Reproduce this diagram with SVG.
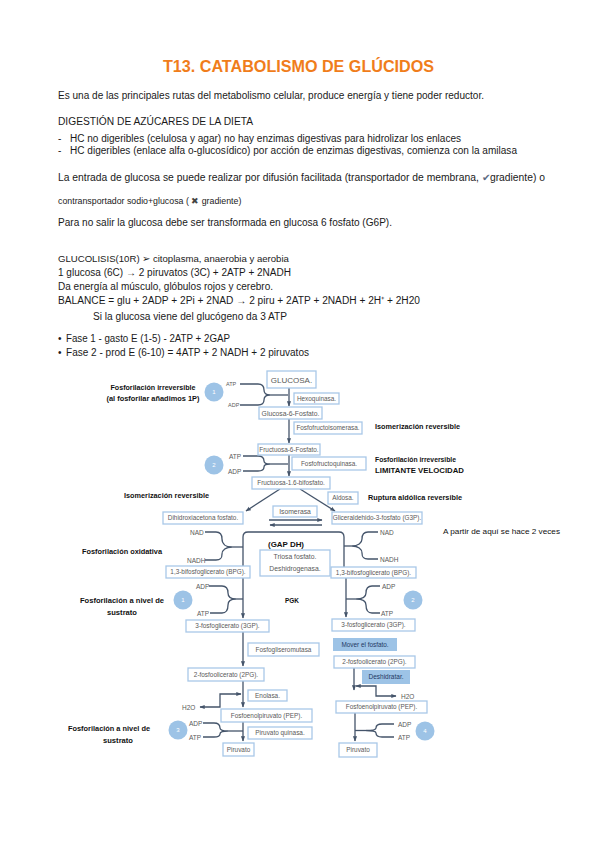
<svg xmlns="http://www.w3.org/2000/svg" width="599" height="848" viewBox="0 0 599 848">
<defs>
<marker id="ah" viewBox="0 0 10 10" refX="9" refY="5" markerWidth="4" markerHeight="4" orient="auto-start-reverse" markerUnits="strokeWidth">
<path d="M0 1 L10 5 L0 9 Z" fill="#44546A"/>
</marker>
<style>
.t{font-family:"Liberation Sans",Arial,sans-serif;font-size:10px;fill:#1a1a1a}
.title{font-family:"Liberation Sans",Arial,sans-serif;font-size:16px;font-weight:bold;fill:#F07D1B}
.bx{fill:#fff;stroke:#A9C8E8;stroke-width:1.3}
.fb{fill:#9DC3E6;stroke:none}
.bt{font-family:"Liberation Sans",Arial,sans-serif;font-size:6.4px;fill:#595959;text-anchor:middle}
.ft{font-family:"Liberation Sans",Arial,sans-serif;font-size:6.5px;fill:#1F3864;text-anchor:middle}
.lb{font-family:"Liberation Sans",Arial,sans-serif;font-size:7.5px;font-weight:bold;fill:#111}
.lbc{font-family:"Liberation Sans",Arial,sans-serif;font-size:7.5px;font-weight:bold;fill:#111;text-anchor:middle}
.sm{font-family:"Liberation Sans",Arial,sans-serif;font-size:6.5px;fill:#595959}
.ln{stroke:#44546A;stroke-width:1.3;fill:none}
.ar{stroke:#44546A;stroke-width:1.3;fill:none;marker-end:url(#ah)}
.ar2{stroke:#44546A;stroke-width:1.3;fill:none;marker-start:url(#ah);marker-end:url(#ah)}
.cc{fill:#9DC3E6}
.cn{font-family:"Liberation Sans",Arial,sans-serif;font-size:6px;fill:#fff;text-anchor:middle}
</style>
</defs>
<rect width="599" height="848" fill="#fff"/>

<g id="text-top">
<text class="title" x="163" y="72" textLength="271" lengthAdjust="spacingAndGlyphs">T13. CATABOLISMO DE GLÚCIDOS</text>
<text class="t" x="58" y="99" textLength="426" lengthAdjust="spacingAndGlyphs">Es una de las principales rutas del metabolismo celular, produce energía y tiene poder reductor.</text>
<text class="t" x="58" y="125" textLength="195" lengthAdjust="spacingAndGlyphs">DIGESTIÓN DE AZÚCARES DE LA DIETA</text>
<text class="t" x="58" y="141.5">-</text>
<text class="t" x="70" y="141.5" textLength="391" lengthAdjust="spacingAndGlyphs">HC no digeribles (celulosa y agar) no hay enzimas digestivas para hidrolizar los enlaces</text>
<text class="t" x="58" y="154">-</text>
<text class="t" x="70" y="154" textLength="447" lengthAdjust="spacingAndGlyphs">HC digeribles (enlace alfa o-glucosídico) por acción de enzimas digestivas, comienza con la amilasa</text>
<text class="t" x="58" y="180.5" textLength="487" lengthAdjust="spacingAndGlyphs">La entrada de glucosa se puede realizar por difusión facilitada (transportador de membrana, <tspan fill="#5B6B82">✔</tspan>gradiente) o</text>
<text class="t" x="58" y="203.5" style="font-size:8.8px">contransportador sodio+glucosa ( <tspan fill="#444">✖</tspan> gradiente)</text>
<text class="t" x="58" y="226" textLength="334" lengthAdjust="spacingAndGlyphs">Para no salir la glucosa debe ser transformada en glucosa 6 fosfato (G6P).</text>
<text class="t" x="58" y="261.5" style="font-size:9.6px">GLUCOLISIS(10R) ➢ citoplasma, anaerobia y aerobia</text>
<text class="t" x="58" y="275.5" textLength="233" lengthAdjust="spacingAndGlyphs">1 glucosa (6C) → 2 piruvatos (3C) + 2ATP + 2NADH</text>
<text class="t" x="58" y="289.5" textLength="215" lengthAdjust="spacingAndGlyphs">Da energía al músculo, glóbulos rojos y cerebro.</text>
<text class="t" x="58" y="304" textLength="362" lengthAdjust="spacingAndGlyphs">BALANCE = glu + 2ADP + 2Pi + 2NAD →  2 piru + 2ATP + 2NADH + 2H⁺ + 2H20</text>
<text class="t" x="93" y="319.5" textLength="194" lengthAdjust="spacingAndGlyphs">Si la glucosa viene del glucógeno da 3 ATP</text>
<text class="t" x="58" y="342">•</text>
<text class="t" x="66" y="342" textLength="164" lengthAdjust="spacingAndGlyphs">Fase 1 - gasto E (1-5) - 2ATP + 2GAP</text>
<text class="t" x="58" y="356">•</text>
<text class="t" x="66" y="356" textLength="243" lengthAdjust="spacingAndGlyphs">Fase 2 - prod E (6-10) = 4ATP + 2 NADH + 2 piruvatos</text>
</g>

<g id="connectors">
<path class="ar" d="M289 388 V406"/>
<path class="ar" d="M289 419 V443"/>
<path class="ar" d="M289 455 V476"/>
<path class="ln" d="M240 384 H258 C263 384 264 387 264 390 C264 393 266 395 270 395 C266 395 264 397 264 400 C264 403 263 405 258 405 H240"/>
<path class="ln" d="M270 395 H288"/>
<path class="ln" d="M243 456 H258 C263 456 264 459 264 461 C264 463 266 464 270 464 C266 464 264 465 264 467 C264 469 263 471 258 471 H243"/>
<path class="ln" d="M270 464 H288"/>
<path class="ar" d="M280 489 L246 511"/>
<path class="ar" d="M300 489 L335 511"/>
<path class="ar" d="M269 520 H322"/>
<path class="ar" d="M322 525 H270"/>
<path class="ln" d="M243 566 V537 Q243 532 248 532 H339 Q344 532 344 537 V567"/>
<path class="ln" d="M205 532 H216 C221 532 222 535 222 539 C222 544 226 547 232 547 C226 547 222 550 222 554 C222 558 221 560 216 560 H205"/>
<path class="ln" d="M232 547 H243"/>
<path class="ln" d="M378 532 H368 C363 532 362 535 362 539 C362 543 358 546 352 546 C358 546 362 549 362 553 C362 557 363 559 368 559 H378"/>
<path class="ln" d="M352 546 H344"/>
<path class="ar" d="M243 578 V618"/>
<path class="ln" d="M209 586 H222 C227 586 228 589 228 593 C228 597 231 599 236 599 C231 599 228 601 228 605 C228 609 227 613 222 613 H210"/>
<path class="ln" d="M236 599 H243"/>
<path class="ar" d="M346 578 V617"/>
<path class="ln" d="M380 586 H372 C367 586 366 589 366 593 C366 597 362 599 356 599 C362 599 366 601 366 605 C366 609 367 613 372 613 H380"/>
<path class="ln" d="M356 599 H346"/>
<path class="ar" d="M243 632 V666"/>
<path class="ar" d="M243 681 V707"/>
<path class="ar2" d="M241 694 H220 V707 H200"/>
<path class="ar" d="M243 722 V741"/>
<path class="ln" d="M203 723 H214 C219 723 220 726 220 728 C220 730 223 731 228 731 C223 731 220 732 220 734 C220 736 219 737 214 737 H203"/>
<path class="ln" d="M228 731 H243"/>
<path class="ar" d="M354 668 V690"/>
<path class="ar2" d="M356 686 H376 V696 H396"/>
<path class="ar" d="M355 713 V741"/>
<path class="ln" d="M394 724 H382 C377 724 376 726 376 728 C376 730 372 730.5 366 730.5 C372 730.5 376 731 376 733 C376 735 377 737 382 737 H394"/>
<path class="ln" d="M366 730.5 H355"/>
</g>

<g id="n-glucosa"><rect class="bx" x="267" y="371" width="49" height="17"/><text class="bt" x="291.5" y="382.5" style="font-size:8px">GLUCOSA.</text></g>
<g id="n-hexoquinasa"><rect class="bx" x="294" y="393" width="45" height="11"/><text class="bt" x="316.5" y="400.5">Hexoquinasa.</text></g>
<g id="n-g6p"><rect class="bx" x="259" y="407" width="63" height="12"/><text class="bt" x="290.5" y="415.5" style="font-size:6.8px">Glucosa-6-Fosfato.</text></g>
<g id="n-fosfofructoisomerasa"><rect class="bx" x="294" y="422" width="68" height="12"/><text class="bt" x="328" y="430">Fosfofructoisomerasa.</text></g>
<g id="n-f6p"><rect class="bx" x="258" y="444" width="62" height="11"/><text class="bt" x="289" y="451.5">Fructuosa-6-Fosfato.</text></g>
<g id="n-fosfofructoquinasa"><rect class="bx" x="292" y="457" width="74" height="13"/><text class="bt" x="329" y="465.5">Fosfofructoquinasa.</text></g>
<g id="n-f16bp"><rect class="bx" x="252" y="477" width="78" height="12"/><text class="bt" x="291" y="485">Fructuosa-1.6-bifosfato.</text></g>
<g id="n-aldosa"><rect class="bx" x="328" y="492" width="30" height="12"/><text class="bt" x="343" y="500">Aldosa.</text></g>
<g id="n-isomerasa"><rect class="bx" x="273" y="506" width="44" height="11"/><text class="bt" x="295" y="513.5" style="font-size:6.8px">Isomerasa</text></g>
<g id="n-dhap"><rect class="bx" x="163" y="512" width="80" height="12"/><text class="bt" x="203" y="520">Dihidroxiacetona fosfato.</text></g>
<g id="n-g3p"><rect class="bx" x="332" y="512" width="90" height="12"/><text class="bt" x="377" y="520">Gliceraldehido-3-fosfato (G3P).</text></g>
<g id="n-gapdh"><rect class="bx" x="260" y="550" width="70" height="26"/><text class="bt" x="295" y="559" style="font-size:6.8px">Triosa fosfato.</text><text class="bt" x="295" y="571" style="font-size:6.8px">Deshidrogenasa.</text></g>
<g id="n-bpg-l"><rect class="bx" x="166" y="566" width="84" height="12"/><text class="bt" x="208" y="574">1,3-bifosfoglicerato (BPG).</text></g>
<g id="n-bpg-r"><rect class="bx" x="331" y="567" width="85" height="11"/><text class="bt" x="373.5" y="574.5">1,3-bifosfoglicerato (BPG).</text></g>
<g id="n-3gp-l"><rect class="bx" x="186" y="620" width="83" height="12"/><text class="bt" x="227.5" y="628">3-fosfoglicerato (3GP).</text></g>
<g id="n-3gp-r"><rect class="bx" x="332" y="619" width="83" height="12"/><text class="bt" x="373.5" y="627">3-fosfoglicerato (3GP).</text></g>
<g id="n-fosfogliseromutasa"><rect class="bx" x="248" y="643" width="71" height="13"/><text class="bt" x="283.5" y="651.5">Fosfogliseromutasa</text></g>
<g id="n-mover"><rect class="fb" x="333" y="638" width="64" height="13"/><text class="ft" x="365" y="646.5" style="font-size:6.4px">Mover el fosfato.</text></g>
<g id="n-2pg-l"><rect class="bx" x="188" y="668" width="76" height="13"/><text class="bt" x="226" y="676.5">2-fosfoolicerato (2PG).</text></g>
<g id="n-2pg-r"><rect class="bx" x="334" y="656" width="81" height="12"/><text class="bt" x="374.5" y="664">2-fosfoolicerato (2PG).</text></g>
<g id="n-deshidratar"><rect class="fb" x="362" y="670" width="48" height="14"/><text class="ft" x="386" y="679">Deshidratar.</text></g>
<g id="n-enolasa"><rect class="bx" x="248" y="690" width="39" height="11"/><text class="bt" x="267.5" y="697.5">Enolasa.</text></g>
<g id="n-pep-l"><rect class="bx" x="221" y="709" width="91" height="13"/><text class="bt" x="266.5" y="717.5">Fosfoenolpiruvato (PEP).</text></g>
<g id="n-pep-r"><rect class="bx" x="336" y="701" width="91" height="12"/><text class="bt" x="381.5" y="709">Fosfoenolpiruvato (PEP).</text></g>
<g id="n-piruvatoquinasa"><rect class="bx" x="248" y="727" width="64" height="12"/><text class="bt" x="280" y="735">Piruvato quinasa.</text></g>
<g id="n-piruvato-l"><rect class="bx" x="223" y="743" width="31" height="13"/><text class="bt" x="238.5" y="751.5">Piruvato</text></g>
<g id="n-piruvato-r"><rect class="bx" x="339" y="743" width="38" height="14"/><text class="bt" x="358" y="752">Piruvato</text></g>

<g id="cofactors">
<text class="sm" x="226" y="386" style="font-size:5.5px">ATP</text>
<text class="sm" x="228" y="407" style="font-size:5.5px">ADP</text>
<text class="sm" x="229" y="458.5">ATP</text>
<text class="sm" x="228" y="474">ADP</text>
<text class="sm" x="190" y="534.5">NAD</text>
<text class="sm" x="187" y="562.5">NADH</text>
<text class="sm" x="380" y="534.5">NAD</text>
<text class="sm" x="380" y="562">NADH</text>
<text class="sm" x="196" y="588.5">ADP</text>
<text class="sm" x="197" y="615.5">ATP</text>
<text class="sm" x="382" y="588.5">ADP</text>
<text class="sm" x="381" y="615.5">ATP</text>
<text class="sm" x="182" y="709.5">H2O</text>
<text class="sm" x="401" y="699">H2O</text>
<text class="sm" x="189" y="725.5">ADP</text>
<text class="sm" x="189" y="739.5">ATP</text>
<text class="sm" x="398" y="726.5">ADP</text>
<text class="sm" x="398" y="740">ATP</text>
</g>

<g id="steps">
<circle class="cc" cx="214" cy="392" r="9.5"/><text class="cn" x="214" y="394">1</text>
<circle class="cc" cx="214" cy="465" r="9.5"/><text class="cn" x="214" y="467">2</text>
<circle class="cc" cx="183" cy="600" r="9.5"/><text class="cn" x="183" y="602">1</text>
<circle class="cc" cx="413" cy="600" r="9.5"/><text class="cn" x="413" y="602">2</text>
<circle class="cc" cx="178" cy="730" r="9.5"/><text class="cn" x="178" y="732">3</text>
<circle class="cc" cx="425" cy="731" r="9.5"/><text class="cn" x="425" y="733">4</text>
</g>

<g id="annotations">
<text class="lbc" x="153" y="390" textLength="85" lengthAdjust="spacingAndGlyphs">Fosforilación irreversible</text>
<text class="lbc" x="153" y="401" textLength="93" lengthAdjust="spacingAndGlyphs">(al fosforilar añadimos 1P)</text>
<text class="lb" x="375" y="429" textLength="85" lengthAdjust="spacingAndGlyphs">Isomerización reversible</text>
<text class="lb" x="375" y="462" textLength="81" lengthAdjust="spacingAndGlyphs">Fosforilación irreversible</text>
<text class="lb" x="375" y="473" textLength="89" lengthAdjust="spacingAndGlyphs">LIMITANTE VELOCIDAD</text>
<text class="lb" x="124" y="498" textLength="85" lengthAdjust="spacingAndGlyphs">Isomerización reversible</text>
<text class="lb" x="368" y="500" textLength="94" lengthAdjust="spacingAndGlyphs">Ruptura aldólica reversible</text>
<text class="lb" x="443" y="534" textLength="117" lengthAdjust="spacingAndGlyphs" style="font-weight:normal">A partir de aquí se hace 2 veces</text>
<text class="lb" x="82" y="554" textLength="80" lengthAdjust="spacingAndGlyphs">Fosforilación oxidativa</text>
<text class="lb" x="268" y="547" textLength="36" lengthAdjust="spacingAndGlyphs" style="font-size:8px">(GAP DH)</text>
<text class="lb" x="285" y="603" textLength="14" lengthAdjust="spacingAndGlyphs">PGK</text>
<text class="lbc" x="122" y="603" textLength="84" lengthAdjust="spacingAndGlyphs">Fosforilación a nivel de</text>
<text class="lbc" x="122" y="615" textLength="30" lengthAdjust="spacingAndGlyphs">sustrato</text>
<text class="lbc" x="109" y="730.5" textLength="82" lengthAdjust="spacingAndGlyphs">Fosforilación a nivel de</text>
<text class="lbc" x="118" y="743" textLength="30" lengthAdjust="spacingAndGlyphs">sustrato</text>
</g>
</svg>
